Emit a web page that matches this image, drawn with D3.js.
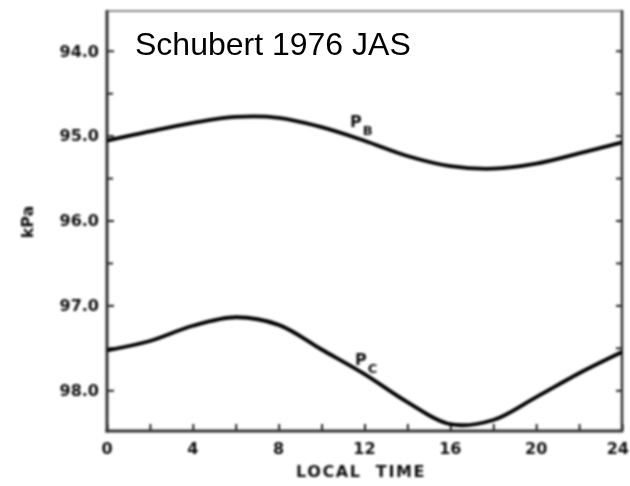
<!DOCTYPE html>
<html>
<head>
<meta charset="utf-8">
<script src="https://cdn.jsdelivr.net/npm/d3@7"></script>
<style>
  html, body { margin: 0; padding: 0; background: #fff; }
  svg { display: block; }
</style>
</head>
<body>
<svg id="chart" width="630" height="486"></svg>
<script>
// Diurnal surface pressure at two levels (kPa) versus local time
const hours = [0, 2, 4, 6, 8, 10, 12, 14, 16, 18, 20, 22, 24];
const pB = [95.06, 94.95, 94.85, 94.78, 94.79, 94.90, 95.06, 95.24, 95.36, 95.39, 95.33, 95.21, 95.08];
const pC = [97.53, 97.42, 97.24, 97.14, 97.23, 97.52, 97.81, 98.14, 98.40, 98.35, 98.08, 97.80, 97.55];

const xMajor = [0, 4, 8, 12, 16, 20, 24];
const xMinor = [2, 6, 10, 14, 18, 22];
const yMajor = [94, 95, 96, 97, 98];
const yMinor = [94.5, 95.5, 96.5, 97.5];

const svg = d3.select("#chart");
const frame = { left: 107, right: 622, top: 10, bottom: 431 };

const x = d3.scaleLinear().domain([0, 24]).range([frame.left, frame.right]);
const y = d3.scaleLinear().domain([93.52, 98.48]).range([frame.top, frame.bottom]);

// soft scanned look for the figure body
const defs = svg.append("defs");
defs.append("filter").attr("id", "soft")
  .attr("x", "-5%").attr("y", "-5%").attr("width", "110%").attr("height", "110%")
  .append("feGaussianBlur").attr("stdDeviation", 0.85);

const g = svg.append("g").attr("filter", "url(#soft)");

const tickFont = "'DejaVu Sans', sans-serif";
const ink = "#111";

// frame
g.append("line").attr("x1", frame.left).attr("x2", frame.right).attr("y1", frame.top + 1).attr("y2", frame.top + 1)
  .attr("stroke", "#8a8a8a").attr("stroke-width", 2);
g.append("line").attr("x1", frame.right).attr("x2", frame.right).attr("y1", frame.top).attr("y2", frame.bottom)
  .attr("stroke", "#333").attr("stroke-width", 2.5);

// left axis (ticks inward)
const yAxisL = d3.axisRight(y).tickValues(yMajor).tickSize(7).tickFormat("");
const gl = g.append("g").attr("transform", `translate(${frame.left},0)`).call(yAxisL);
const yAxisLm = d3.axisRight(y).tickValues(yMinor).tickSize(6).tickFormat("");
const glm = g.append("g").attr("transform", `translate(${frame.left},0)`).call(yAxisLm);

// right axis ticks (inward)
const yAxisR = d3.axisLeft(y).tickValues(yMajor.concat(yMinor)).tickSize(6).tickFormat("");
const gr = g.append("g").attr("transform", `translate(${frame.right},0)`).call(yAxisR);

// bottom axis (ticks inward)
const xAxis = d3.axisTop(x).tickValues(xMajor.concat(xMinor)).tickSize(7).tickFormat("");
const gb = g.append("g").attr("transform", `translate(0,${frame.bottom})`).call(xAxis);

[gl, glm, gr, gb].forEach(a => {
  a.select(".domain").remove();
  a.selectAll(".tick line").attr("stroke", "#222").attr("stroke-width", 2);
});

g.append("line").attr("x1", frame.left).attr("x2", frame.left).attr("y1", frame.top).attr("y2", frame.bottom + 1.5)
  .attr("stroke", "#333").attr("stroke-width", 3);
g.append("line").attr("x1", frame.left - 1.5).attr("x2", frame.right + 1.2).attr("y1", frame.bottom).attr("y2", frame.bottom)
  .attr("stroke", "#333").attr("stroke-width", 3);

// y tick labels
g.selectAll(".ylab").data(yMajor).join("text")
  .attr("x", frame.left - 8).attr("y", d => y(d)).attr("dy", "0.36em")
  .attr("text-anchor", "end")
  .attr("font-family", tickFont).attr("font-weight", "bold").attr("font-size", 16)
  .attr("fill", ink)
  .text(d => d.toFixed(1));

// x tick labels (last one kept inside the page edge)
g.selectAll(".xlab").data(xMajor).join("text")
  .attr("x", d => d === 24 ? x(d) + 7 : x(d)).attr("y", frame.bottom + 23)
  .attr("text-anchor", d => d === 24 ? "end" : "middle")
  .attr("font-family", tickFont).attr("font-weight", "bold").attr("font-size", 16)
  .attr("fill", ink)
  .text(d => d);

// axis titles
g.append("text").attr("x", 361).attr("y", 477).attr("text-anchor", "middle")
  .attr("font-family", tickFont).attr("font-weight", "bold").attr("font-size", 16)
  .attr("letter-spacing", 1.6)
  .attr("fill", ink).attr("xml:space", "preserve")
  .text("LOCAL  TIME");
g.append("text").attr("transform", "translate(33,222) rotate(-90)").attr("text-anchor", "middle")
  .attr("font-family", tickFont).attr("font-weight", "bold").attr("font-size", 16)
  .attr("fill", ink)
  .text("kPa");

// pressure curves
const line = d3.line().x(d => x(d[0])).y(d => y(d[1])).curve(d3.curveCatmullRom.alpha(0.5));
[pB, pC].forEach(series => {
  g.append("path").datum(hours.map((h, i) => [h, series[i]]))
    .attr("d", line).attr("fill", "none")
    .attr("stroke", "#000").attr("stroke-width", 3.8);
});

// curve labels
function curveLabel(cx, cy, sub) {
  const t = g.append("text").attr("x", cx).attr("y", cy)
    .attr("font-family", tickFont).attr("font-weight", "bold").attr("font-size", 16)
    .attr("fill", ink);
  t.append("tspan").text("P");
  t.append("tspan").attr("dy", 8).attr("dx", 1).attr("font-size", 13).text(sub);
}
curveLabel(350, 127, "B");
curveLabel(355, 365, "C");

// source note
svg.append("text").attr("x", 135).attr("y", 55)
  .attr("font-family", "'Liberation Sans', Arial, sans-serif").attr("font-size", 32)
  .attr("fill", "#000")
  .text("Schubert 1976 JAS");
</script>
</body>
</html>
